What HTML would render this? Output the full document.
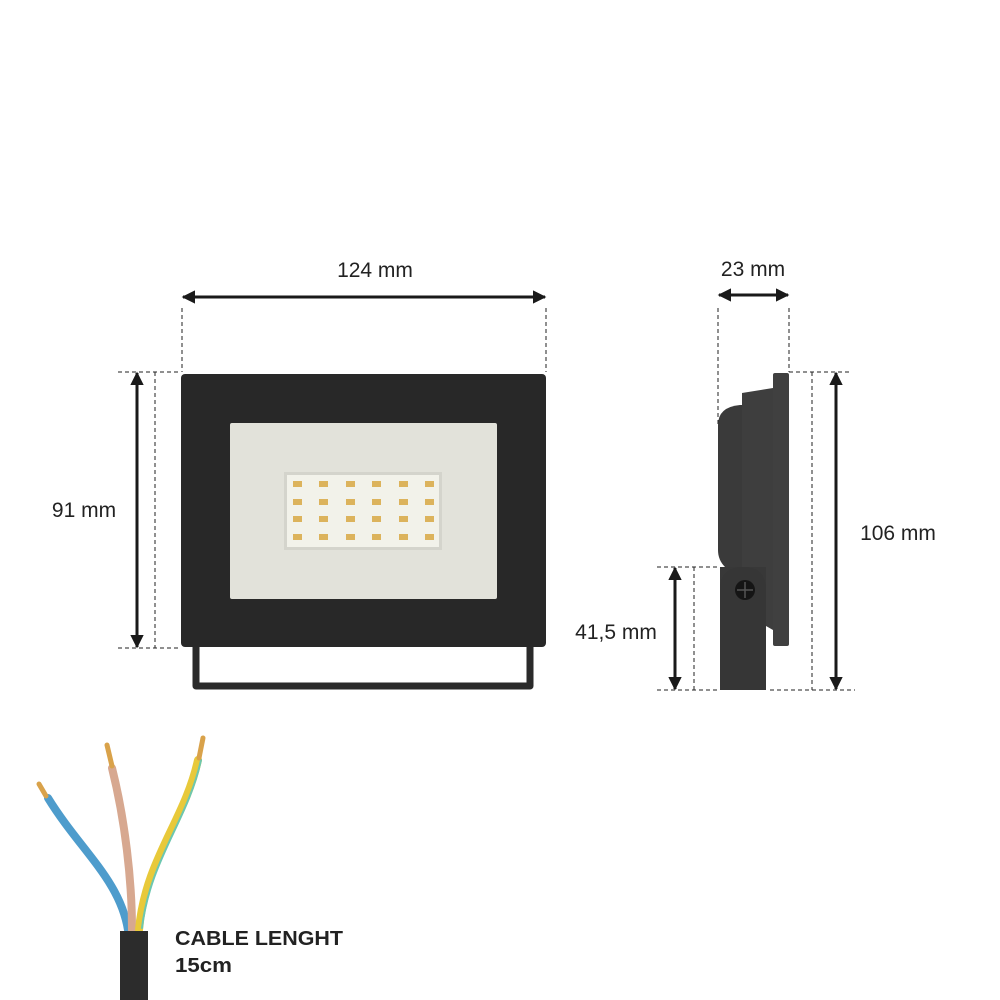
<!DOCTYPE html>
<html><head><meta charset="utf-8"><style>
html,body{margin:0;padding:0;background:#fff;}
svg{display:block;}
text{font-family:"Liberation Sans",sans-serif;fill:#222;}
</style></head><body>
<svg width="1000" height="1000" viewBox="0 0 1000 1000" xmlns="http://www.w3.org/2000/svg">
<defs>
<marker id="ah" viewBox="0 0 10 10" refX="9" refY="5" markerWidth="4.5" markerHeight="4.5" orient="auto-start-reverse"><path d="M0,0 L10,5 L0,10 z" fill="#1a1a1a"/></marker>
</defs>
<g stroke="#222" stroke-width="1" stroke-dasharray="4,3" fill="none">
<line x1="182" y1="308" x2="182" y2="372"/><line x1="546" y1="308" x2="546" y2="372"/>
<line x1="118" y1="372" x2="180" y2="372"/><line x1="118" y1="648" x2="180" y2="648"/>
<line x1="155" y1="372" x2="155" y2="648"/>
<line x1="718" y1="308" x2="718" y2="425"/><line x1="789" y1="308" x2="789" y2="372"/>
<line x1="789" y1="372" x2="852" y2="372"/><line x1="770" y1="690" x2="855" y2="690"/>
<line x1="812" y1="372" x2="812" y2="690"/>
<line x1="657" y1="567" x2="720" y2="567"/><line x1="657" y1="690" x2="720" y2="690"/>
<line x1="694" y1="567" x2="694" y2="690"/>
</g>
<g stroke="#1a1a1a" stroke-width="3" marker-start="url(#ah)" marker-end="url(#ah)">
<line x1="183" y1="297" x2="545" y2="297"/>
<line x1="137" y1="373" x2="137" y2="647"/>
<line x1="719" y1="295" x2="788" y2="295"/>
<line x1="836" y1="373" x2="836" y2="689"/>
<line x1="675" y1="568" x2="675" y2="689"/>
</g>
<g font-size="21">
<text x="375" y="277" text-anchor="middle">124 mm</text>
<text x="84" y="517" text-anchor="middle">91 mm</text>
<text x="753" y="276" text-anchor="middle">23 mm</text>
<text x="898" y="540" text-anchor="middle">106 mm</text>
<text x="616" y="639" text-anchor="middle">41,5 mm</text>
</g>
<!-- front -->
<path d="M196,647 V686 H530 V647" fill="none" stroke="#2a2a2a" stroke-width="7" stroke-linejoin="round"/>
<rect x="181" y="374" width="365" height="273" rx="4" fill="#282828"/>
<rect x="230" y="423" width="267" height="176" rx="2" fill="#e2e2da"/>
<rect x="284" y="472" width="158" height="78" fill="#d4d4cc"/>
<rect x="287" y="475" width="152" height="72" fill="#f2f2ea"/>
<g fill="#dcb35c">
<rect x="293" y="481" width="9" height="6"/><rect x="319" y="481" width="9" height="6"/><rect x="346" y="481" width="9" height="6"/><rect x="372" y="481" width="9" height="6"/><rect x="399" y="481" width="9" height="6"/><rect x="425" y="481" width="9" height="6"/>
<rect x="293" y="499" width="9" height="6"/><rect x="319" y="499" width="9" height="6"/><rect x="346" y="499" width="9" height="6"/><rect x="372" y="499" width="9" height="6"/><rect x="399" y="499" width="9" height="6"/><rect x="425" y="499" width="9" height="6"/>
<rect x="293" y="516" width="9" height="6"/><rect x="319" y="516" width="9" height="6"/><rect x="346" y="516" width="9" height="6"/><rect x="372" y="516" width="9" height="6"/><rect x="399" y="516" width="9" height="6"/><rect x="425" y="516" width="9" height="6"/>
<rect x="293" y="534" width="9" height="6"/><rect x="319" y="534" width="9" height="6"/><rect x="346" y="534" width="9" height="6"/><rect x="372" y="534" width="9" height="6"/><rect x="399" y="534" width="9" height="6"/><rect x="425" y="534" width="9" height="6"/>
</g>
<!-- side -->
<path d="M718,425 Q718,407 740,405 L742,405 V567 H725 Q718,560 718,550 Z" fill="#3a3a3a"/>
<path d="M742,393 L773,388 V630 L766,626 H742 Z" fill="#3e3e3e"/>
<rect x="773" y="373" width="16" height="273" rx="2" fill="#404040"/>
<rect x="720" y="567" width="46" height="123" fill="#383838"/>
<path d="M720,590 Q720,567 743,567 Q766,567 766,590 V690 H720 Z" fill="#363636"/>
<circle cx="745" cy="590" r="10" fill="#151515"/>
<line x1="737" y1="590" x2="753" y2="590" stroke="#555" stroke-width="1.5"/>
<line x1="745" y1="582" x2="745" y2="598" stroke="#555" stroke-width="1.5"/>
<!-- cable -->
<g fill="none" stroke-linecap="round">
<path d="M128,930 C120,880 80,850 48,798" stroke="#4e9ccc" stroke-width="8"/>
<path d="M132,930 C132,880 125,820 112,768" stroke="#d7a890" stroke-width="8"/>
<path d="M139,930 C145,860 185,820 198,760" stroke="#e8c93a" stroke-width="8"/>
<path d="M142,928 C150,860 188,820 201,760" stroke="#6cc7b0" stroke-width="2"/>
<path d="M46,796 L39,784" stroke="#d9a24a" stroke-width="5"/>
<path d="M112,766 L107,745" stroke="#d9a24a" stroke-width="5"/>
<path d="M199,758 L203,738" stroke="#d9a24a" stroke-width="5"/>
</g>
<rect x="120" y="931" width="28" height="69" fill="#2c2c2c"/>
<text x="175" y="945" font-size="20" font-weight="bold" fill="#111" textLength="168" lengthAdjust="spacingAndGlyphs">CABLE LENGHT</text>
<text x="175" y="972" font-size="20" font-weight="bold" fill="#111" textLength="57" lengthAdjust="spacingAndGlyphs">15cm</text>
</svg>
</body></html>
